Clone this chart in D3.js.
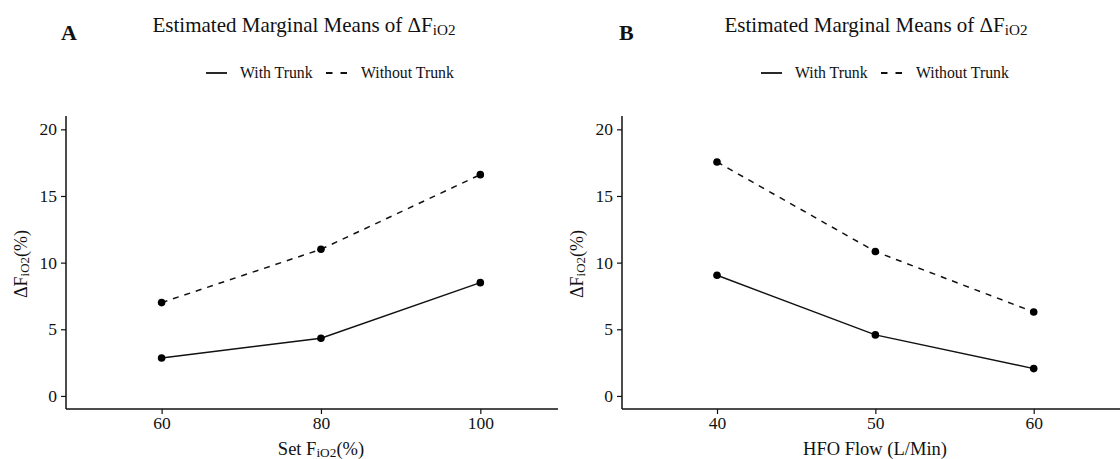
<!DOCTYPE html>
<html>
<head>
<meta charset="utf-8">
<script src="https://cdn.jsdelivr.net/npm/d3@7"></script>
<style>
  body { margin: 0; background: #fff; }
  svg text { font-family: "Liberation Serif", "DejaVu Serif", serif; fill: #111; }
</style>
</head>
<body>
<svg id="chart" width="1120" height="459"></svg>
<script>
// data
var seriesNames = ["With Trunk", "Without Trunk"];
var yTicks = [0, 5, 10, 15, 20];

var fio2Levels = [60, 80, 100];
var fio2WithTrunk = [2.85, 4.33, 8.5];
var fio2WithoutTrunk = [7.0, 11.0, 16.6];

var flowLevels = [40, 50, 60];
var flowWithTrunk = [9.05, 4.58, 2.05];
var flowWithoutTrunk = [17.55, 10.83, 6.3];

var svg = d3.select("#chart");

// text with iO2 subscript
function subText(sel, before, after, size) {
    sel.append("tspan").text(before);
    sel.append("tspan").attr("font-size", size * 0.72).attr("dy", size * 0.12).text("iO2");
    if (after) sel.append("tspan").attr("dy", -size * 0.12).text(after);
}

function panel(opt) {
    var left = opt.left, right = opt.right, top = 116, bottom = 409;
    var x = d3.scaleLinear().domain(opt.xDomain).range([left, right]);
    var y = d3.scaleLinear().domain([-0.98, 21]).range([bottom, top]);

    // letter
    svg.append("text").attr("x", opt.letterX).attr("y", 40)
        .attr("font-size", 22).attr("font-weight", "bold").text(opt.letter);

    // title
    var t = svg.append("text").attr("x", opt.titleX).attr("y", 32)
        .attr("font-size", 21).attr("text-anchor", "middle");
    subText(t, "Estimated Marginal Means of \u0394F", "", 21);

    // legend
    var lg = svg.append("g").attr("transform", "translate(" + opt.legendX + ",73)");
    lg.append("line").attr("x1", 0).attr("x2", 21).attr("stroke", "#111").attr("stroke-width", 1.8);
    lg.append("text").attr("x", 34).attr("y", 5).attr("font-size", 15.8).text(seriesNames[0]);
    lg.append("line").attr("x1", 120).attr("x2", 141).attr("stroke", "#111").attr("stroke-width", 1.8)
        .attr("stroke-dasharray", "6.5,8");
    lg.append("text").attr("x", 155).attr("y", 5).attr("font-size", 15.8).text(seriesNames[1]);

    // axes
    var ya = svg.append("g").attr("transform", "translate(" + left + ",0)")
        .call(d3.axisLeft(y).tickValues(yTicks).tickSize(5).tickPadding(4));
    var xa = svg.append("g").attr("transform", "translate(0," + bottom + ")")
        .call(d3.axisBottom(x).tickValues(opt.levels).tickSize(5).tickPadding(3));
    [ya, xa].forEach(function(a) {
        a.attr("font-family", "'Liberation Serif', serif").attr("font-size", 17.5);
        a.selectAll("path").attr("stroke", "#111").attr("stroke-width", 1.5);
        a.selectAll(".tick line").attr("stroke", "#111").attr("stroke-width", 1.2);
        a.selectAll(".tick text").attr("fill", "#111");
    });
    // axis lines meet in the corner, no end caps
    xa.select("path").attr("d", "M" + left + ",0H" + right);
    ya.select("path").attr("d", "M0," + top + "V" + bottom);

    // axis titles
    var xt = svg.append("text").attr("x", opt.xTitleX).attr("y", 455)
        .attr("font-size", 18.5).attr("text-anchor", "middle");
    if (opt.xTitleSub) subText(xt, opt.xTitle, "(%)", 18.5);
    else xt.text(opt.xTitle);

    var yt = svg.append("text").attr("transform", "translate(" + (left - 39) + ",264) rotate(-90)")
        .attr("font-size", 18).attr("text-anchor", "middle");
    subText(yt, "\u0394F", "(%)", 18);

    var line = d3.line().x(function(d) { return x(d[0]); }).y(function(d) { return y(d[1]); });
    opt.series.forEach(function(vals, i) {
        var pts = opt.levels.map(function(l, j) { return [l, vals[j]]; });
        svg.append("path").datum(pts).attr("d", line).attr("fill", "none")
            .attr("stroke", "#111").attr("stroke-width", 1.5)
            .attr("stroke-dasharray", i === 1 ? "6,6" : null);
        svg.selectAll(null).data(pts).enter().append("circle")
            .attr("cx", function(d) { return x(d[0]); })
            .attr("cy", function(d) { return y(d[1]); })
            .attr("r", 3.8).attr("fill", "#000");
    });
}

panel({
    letter: "A", letterX: 61, titleX: 304, legendX: 206,
    left: 66, right: 558, xDomain: [48, 109.75], levels: fio2Levels,
    series: [fio2WithTrunk, fio2WithoutTrunk],
    xTitle: "Set F", xTitleSub: true, xTitleX: 321
});
panel({
    letter: "B", letterX: 619, titleX: 876, legendX: 761,
    left: 622, right: 1120, xDomain: [34, 65.45], levels: flowLevels,
    series: [flowWithTrunk, flowWithoutTrunk],
    xTitle: "HFO Flow (L/Min)", xTitleSub: false, xTitleX: 875
});
</script>
</body>
</html>
